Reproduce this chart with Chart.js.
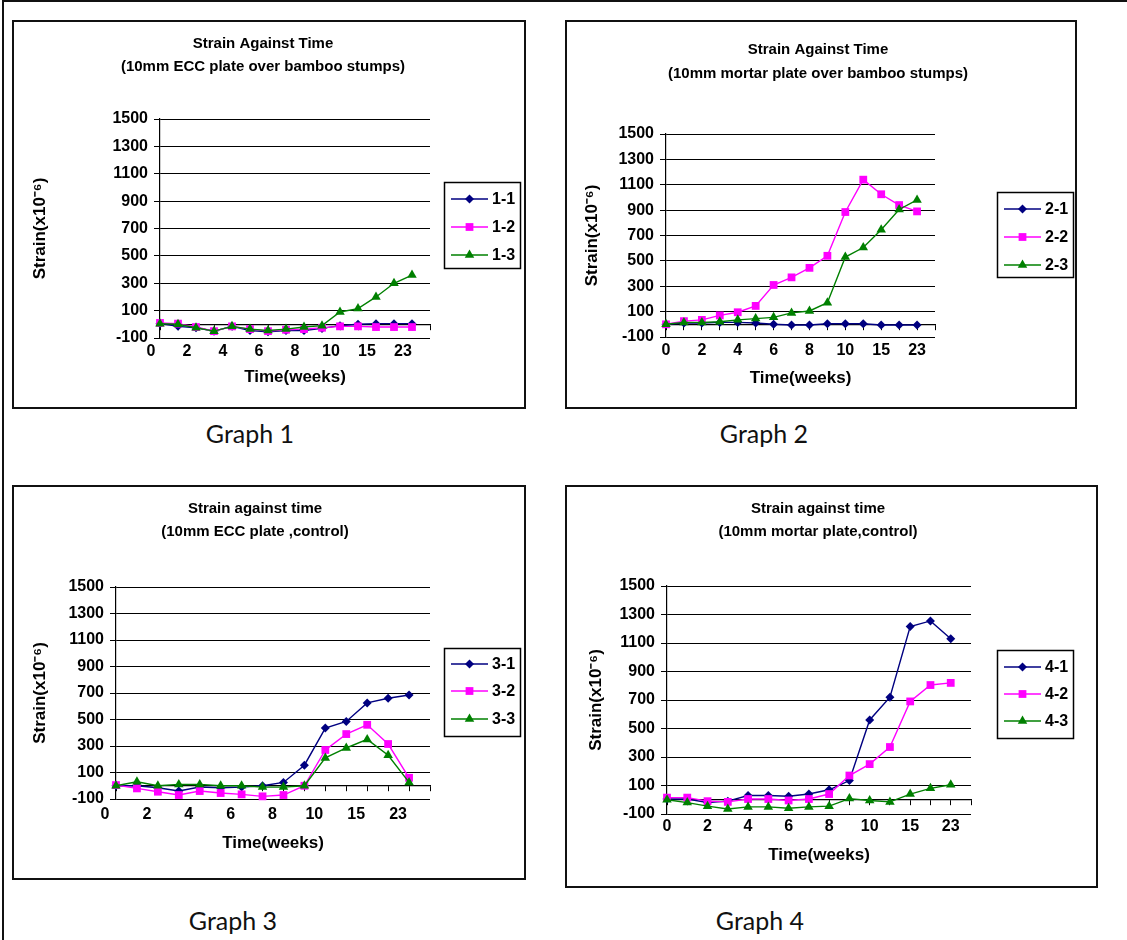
<!DOCTYPE html>
<html>
<head>
<meta charset="utf-8">
<script src="https://cdn.jsdelivr.net/npm/chart.js@4.4.0/dist/chart.umd.min.js"></script>
<style>
  body { margin: 0; background: #fff; width: 1127px; height: 940px; position: relative; overflow: hidden; }
  .frame { position: absolute; border: 2px solid #111; box-sizing: border-box; }
  canvas { position: absolute; }
  .cap { position: absolute; font-family: Lato, "Open Sans", sans-serif; font-size: 25px; color: #111; transform: translate(-50%, -50%); white-space: nowrap; }
  .rule { position: absolute; background: #111; }
</style>
</head>
<body>
<div class="rule" style="left:2px;top:0;width:1125px;height:2px"></div>
<div class="rule" style="left:2px;top:0;width:2px;height:940px"></div>

<script>
// x categories: only every other week is labelled on the axis
const weekLabels = ['0', '', '2', '', '4', '', '6', '', '8', '', '10', '', '15', '', '23', ''];
const yMin = -100, yMax = 1500, yStep = 200;

const seriesColors = ['#000080', '#FF00FF', '#008000'];
const markerStyles = ['rectRot', 'rect', 'triangle'];
const markerSizes = [4.5, 5.5, 5.5];

// Graph 1 - 10mm ECC plate over bamboo stumps
const g1Names = ['1-1', '1-2', '1-3'];
const g1s1 = [5, -15, -25, -50, -15, -45, -55, -45, -45, -30, -10, 0, 5, 5, 5];
const g1s2 = [10, 5, -20, -50, -15, -35, -50, -40, -35, -25, -15, -15, -20, -20, -20];
const g1s3 = [5, 0, -25, -50, -15, -35, -45, -35, -20, -10, 90, 115, 200, 300, 360];

// Graph 2 - 10mm mortar plate over bamboo stumps
const g2Names = ['2-1', '2-2', '2-3'];
const g2s1 = [0, 10, 10, 15, 15, 10, 0, -5, -5, 5, 5, 5, -5, -5, -5];
const g2s2 = [0, 25, 35, 70, 95, 145, 310, 370, 445, 540, 885, 1140, 1025, 940, 890];
const g2s3 = [0, 15, 15, 20, 35, 45, 55, 90, 105, 170, 530, 605, 745, 905, 980];

// Graph 3 - 10mm ECC plate, control
const g3Names = ['3-1', '3-2', '3-3'];
const g3s1 = [0, 0, -15, -40, -10, -15, -10, 0, 25, 155, 435, 485, 625, 660, 685];
const g3s2 = [5, -20, -45, -70, -40, -55, -65, -80, -70, 0, 270, 390, 460, 315, 60];
const g3s3 = [0, 30, 0, 10, 10, 0, 0, -10, -10, 0, 210, 285, 350, 230, 25];

// Graph 4 - 10mm mortar plate, control
const g4Names = ['4-1', '4-2', '4-3'];
const g4s1 = [5, 5, -20, -10, 30, 30, 25, 40, 70, 135, 560, 720, 1215, 1255, 1130];
const g4s2 = [15, 15, -10, -15, 5, 5, -5, 5, 40, 170, 250, 370, 690, 805, 820];
const g4s3 = [0, -20, -45, -65, -50, -50, -60, -50, -45, 8, -5, -15, 40, 80, 105];

Chart.defaults.font.family = '"Liberation Sans", Arial, sans-serif';
Chart.defaults.color = '#000';

const tickFont = { size: 16, weight: 'bold' };
const axisTitleFont = { size: 17, weight: 'bold', lineHeight: 1.2 };

// chart titles drawn inside each boxed panel
const panelText = {
  id: 'panelText',
  afterDraw(chart, args, o) {
    const ctx = chart.ctx;
    ctx.save();
    ctx.fillStyle = '#000';
    ctx.font = 'bold 15px "Liberation Sans", Arial, sans-serif';
    ctx.textAlign = 'center';
    ctx.textBaseline = 'middle';
    o.lines.forEach((t, i) => ctx.fillText(t, o.x, o.ys[i]));
    ctx.restore();
  }
};

// framed legend with line + marker samples, at the right of the plot
const boxLegend = {
  id: 'boxLegend',
  afterDraw(chart, args, o) {
    const ctx = chart.ctx;
    const [l, t, r, b] = o.box;
    ctx.save();
    ctx.strokeStyle = '#000';
    ctx.lineWidth = 1.5;
    ctx.strokeRect(l + 0.5, t + 0.5, r - l, b - t);
    chart.data.datasets.forEach((ds, i) => {
      const y = o.ys[i];
      ctx.strokeStyle = ds.borderColor;
      ctx.lineWidth = 1.5;
      ctx.beginPath();
      ctx.moveTo(o.lineX[0], y);
      ctx.lineTo(o.lineX[1], y);
      ctx.stroke();
      ctx.fillStyle = ds.borderColor;
      Chart.helpers.drawPoint(ctx, { pointStyle: ds.pointStyle, radius: ds.pointRadius, borderWidth: 0, rotation: 0 },
        (o.lineX[0] + o.lineX[1]) / 2, y);
      ctx.fillStyle = '#000';
      ctx.font = 'bold 16px "Liberation Sans", Arial, sans-serif';
      ctx.textAlign = 'left';
      ctx.textBaseline = 'middle';
      ctx.fillText(ds.label, o.textX, y + 1);
    });
    ctx.restore();
  }
};

function makePanel(p) {
  const [bl, bt, br, bb] = p.box;
  const w = br - bl, h = bb - bt;

  const frame = document.createElement('div');
  frame.className = 'frame';
  Object.assign(frame.style, { left: bl + 'px', top: bt + 'px', width: w + 'px', height: h + 'px' });
  document.body.appendChild(frame);

  const canvas = document.createElement('canvas');
  canvas.width = w; canvas.height = h;
  Object.assign(canvas.style, { left: bl + 'px', top: bt + 'px', width: w + 'px', height: h + 'px' });
  document.body.appendChild(canvas);

  const [pl, pt, pr, pb] = p.plot.map((v, i) => v - (i % 2 ? bt : bl));
  const xTitleH = axisTitleFont.size * axisTitleFont.lineHeight;
  const xAxisH = (p.xTitleY - bt) - pb + xTitleH / 2;
  const xLabelPad = (p.xLabelY - bt) - pb - tickFont.size * 1.2 / 2;
  const yTitlePad = (p.yTitleX - bl) - xTitleH / 2;
  const loc = (pts, off) => pts.map(v => v - off);

  new Chart(canvas, {
    type: 'line',
    data: {
      labels: weekLabels,
      datasets: p.names.map((n, i) => ({
        label: n,
        data: p.series[i],
        borderColor: seriesColors[i],
        backgroundColor: seriesColors[i],
        pointBackgroundColor: seriesColors[i],
        borderWidth: 1.4,
        pointStyle: markerStyles[i],
        pointRadius: markerSizes[i],
        pointBorderWidth: 0,
        tension: 0,
        order: 3 - i,
        clip: false
      }))
    },
    options: {
      responsive: false,
      animation: false,
      events: [],
      layout: { padding: { left: 0, top: pt, right: w - pr, bottom: h - pb - xAxisH } },
      plugins: {
        legend: { display: false },
        tooltip: { enabled: false },
        panelText: { lines: p.title, x: p.titleX - bl, ys: loc(p.titleYs, bt) },
        boxLegend: {
          box: [p.legend[0] - bl, p.legend[1] - bt, p.legend[2] - bl, p.legend[3] - bt],
          ys: loc(p.legendYs, bt),
          lineX: loc(p.legendLineX, bl),
          textX: p.legendTextX - bl
        }
      },
      scales: {
        x: {
          type: 'category',
          offset: false,
          position: 'bottom',
          grid: { display: false, drawTicks: false },
          border: { display: false },
          ticks: { autoSkip: false, maxRotation: 0, minRotation: 0, padding: xLabelPad,
                   labelOffset: p.labelOffset, font: tickFont, color: '#000' },
          title: { display: true, text: 'Time(weeks)', font: axisTitleFont, color: '#000', padding: { top: 0, bottom: 0 } },
          afterFit(s) { s.height = xAxisH; }
        },
        x2: {
          type: 'category',
          axis: 'x',
          offset: false,
          position: { y: 0 },
          grid: { drawOnChartArea: false, drawTicks: true, tickLength: 5, color: '#000', lineWidth: 1 },
          border: { display: true, color: '#000', width: 1.2 },
          ticks: { display: false, autoSkip: false }
        },
        y: {
          type: 'linear',
          min: yMin,
          max: yMax,
          ticks: { stepSize: yStep, font: tickFont, color: '#000', padding: 6, callback: v => String(v) },
          grid: { color: '#000', lineWidth: 1, tickLength: 6 },
          border: { display: true, color: '#000', width: 1.2 },
          title: { display: true, text: 'Strain(x10\u207B\u2076)', font: axisTitleFont, color: '#000', padding: { top: yTitlePad, bottom: 0 } },
          afterFit(s) { s.width = pl; }
        }
      }
    },
    plugins: [panelText, boxLegend]
  });
}

function caption(text, x, y) {
  const d = document.createElement('div');
  d.className = 'cap';
  d.textContent = text;
  d.style.left = x + 'px';
  d.style.top = y + 'px';
  document.body.appendChild(d);
}

makePanel({
  box: [12, 20, 526, 409], plot: [160, 119, 430, 338],
  title: ['Strain Against Time', '(10mm ECC plate over bamboo stumps)'], titleX: 263, titleYs: [44, 67],
  yTitleX: 40, xLabelY: 352, xTitleY: 377, labelOffset: -9,
  legend: [444, 182, 520, 268], legendYs: [199, 227, 255], legendLineX: [451, 488], legendTextX: 492,
  names: g1Names, series: [g1s1, g1s2, g1s3]
});
makePanel({
  box: [565, 20, 1077, 409], plot: [666, 134, 935, 337],
  title: ['Strain Against Time', '(10mm mortar plate over bamboo stumps)'], titleX: 818, titleYs: [50, 74],
  yTitleX: 592, xLabelY: 351, xTitleY: 378, labelOffset: 0,
  legend: [997, 192, 1073, 277], legendYs: [209, 237, 265], legendLineX: [1004, 1041], legendTextX: 1045,
  names: g2Names, series: [g2s1, g2s2, g2s3]
});
makePanel({
  box: [12, 485, 526, 880], plot: [116, 587, 430, 799],
  title: ['Strain against time', '(10mm ECC plate ,control)'], titleX: 255, titleYs: [509, 532],
  yTitleX: 40, xLabelY: 815, xTitleY: 843, labelOffset: -11,
  legend: [444, 648, 520, 736], legendYs: [664, 691, 719], legendLineX: [451, 488], legendTextX: 492,
  names: g3Names, series: [g3s1, g3s2, g3s3]
});
makePanel({
  box: [565, 485, 1098, 888], plot: [667, 586, 971, 814],
  title: ['Strain against time', '(10mm mortar plate,control)'], titleX: 818, titleYs: [509, 532],
  yTitleX: 596, xLabelY: 827, xTitleY: 855, labelOffset: 0,
  legend: [997, 650, 1073, 738], legendYs: [667, 694, 721], legendLineX: [1004, 1041], legendTextX: 1045,
  names: g4Names, series: [g4s1, g4s2, g4s3]
});

caption('Graph 1', 250, 433);
caption('Graph 2', 764, 433);
caption('Graph 3', 233, 920);
caption('Graph 4', 760, 920);
</script>
</body>
</html>
